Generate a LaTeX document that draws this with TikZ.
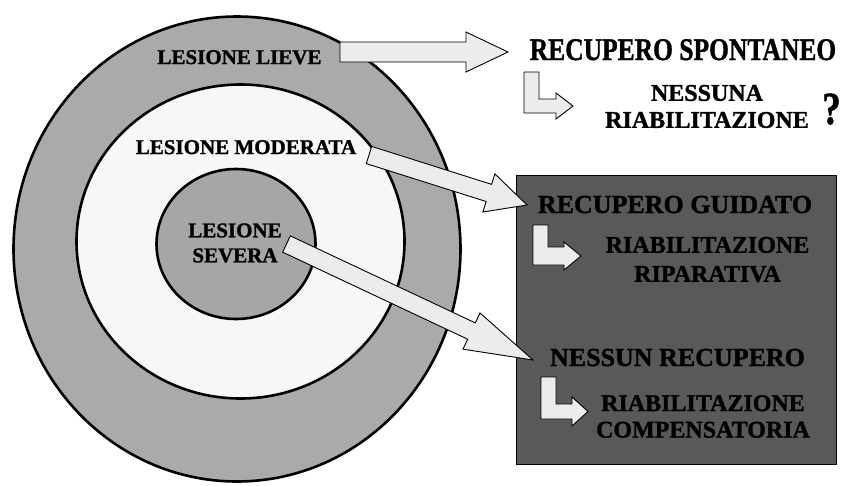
\documentclass[tikz,border=0pt]{standalone}
\usepackage{fontspec}
\setmainfont{Liberation Serif}[BoldFeatures={FakeBold=1.3}]
\usepackage{graphicx}
\usetikzlibrary{shapes.geometric,calc}
\definecolor{ringgray}{HTML}{AAAAAA}
\definecolor{midwhite}{HTML}{F7F7F7}
\definecolor{coregray}{HTML}{A6A6A6}
\definecolor{boxgray}{HTML}{595959}
\definecolor{arrowgray}{HTML}{ECECEC}
\tikzset{
  ring/.style={ellipse, draw=black, line width=2.6pt, inner sep=0pt},
  blockarr/.style={fill=arrowgray, draw=black, line width=0.9pt, line join=miter},
  lbl/.style={inner sep=0pt, align=center, font=\bfseries\fontsize{21}{25}\selectfont},
  bigt/.style={inner sep=0pt, align=center, font=\bfseries\fontsize{26}{30}\selectfont},
  subt/.style={inner sep=0pt, align=center, font=\bfseries\fontsize{24}{27}\selectfont},
}
% #1 tail, #2 tip, #3 body half width, #4 head half width, #5 head length
\newcommand\BlkArrow[5]{%
  \coordinate (ba-p) at ($(#2)!#5!(#1)$);
  \draw[blockarr] ($(#1)!#3!90:(#2)$) -- ($(ba-p)!#3!90:(#2)$) -- ($(ba-p)!#4!90:(#2)$)
    -- (#2) -- ($(ba-p)!#4!-90:(#2)$) -- ($(ba-p)!#3!-90:(#2)$) -- ($(#1)!#3!-90:(#2)$) -- cycle;
}
\begin{document}
\begin{tikzpicture}[x=1pt,y=-1pt]
\useasboundingbox (0,0) rectangle (846,485);
% concentric regions
\node[ring, fill=ringgray, minimum width=447pt, minimum height=465pt] (outer) at (237,249) {};
\node[ring, fill=midwhite, minimum width=328pt, minimum height=314pt] (middle) at (240.5,241.5) {};
\node[ring, fill=coregray, minimum width=159pt, minimum height=150pt] (inner) at (236,244) {};
% dark box
\node[draw=black, line width=1pt, fill=boxgray, minimum width=320pt, minimum height=289pt, inner sep=0pt] (box) at (676,319.5) {};
% labels in circles
\node[lbl, anchor=base] (lieve) at (239.5,64) {LESIONE LIEVE};
\node[lbl, anchor=base] (moderata) at (246,154) {LESIONE MODERATA};
\node[lbl] (severa) at (235,243) {LESIONE\\SEVERA};
% right texts
\node[inner sep=0pt, anchor=base, font=\bfseries\fontsize{31.5}{36}\selectfont] (spont) at (683,60) {\scalebox{0.81}[1]{RECUPERO SPONTANEO}};
\node[subt] (nessuna) at (707,106.5) {NESSUNA\\RIABILITAZIONE};
\node[inner sep=0pt, anchor=base, font=\bfseries\fontsize{46}{50}\selectfont] (qm) at (831.5,124) {\scalebox{0.8}[1]{?}};
\node[bigt, anchor=base] (guidato) at (675,213) {RECUPERO GUIDATO};
\node[subt, font=\bfseries\fontsize{24}{29}\selectfont] (ripar) at (707.5,259.5) {RIABILITAZIONE\\RIPARATIVA};
\node[bigt, anchor=base] (nessun) at (677.5,366) {NESSUN RECUPERO};
\node[subt, font=\bfseries\fontsize{24}{26.5}\selectfont] (compens) at (703,416.5) {RIABILITAZIONE\\COMPENSATORIA};
% block arrows
\coordinate (a1s) at (340,52);   \coordinate (a1e) at (508,52);
\coordinate (a2s) at (369,155);  \coordinate (a2e) at (527,205);
\coordinate (a3s) at (286.5,244);\coordinate (a3e) at (533,360);
\BlkArrow{a1s}{a1e}{10pt}{20pt}{42pt}
\BlkArrow{a2s}{a2e}{9pt}{20pt}{40pt}
\BlkArrow{a3s}{a3e}{9pt}{20pt}{68pt}
% L-shaped arrows
\draw[blockarr] (524,72) -- (539,72) -- (539,99) -- (556,99) -- (556,93) -- (573,106)
  -- (556,119) -- (556,113) -- (524,113) -- cycle;
\draw[blockarr] (533,225) -- (548,225) -- (548,247) -- (564,247) -- (564,242) -- (581,256)
  -- (564,270) -- (564,265) -- (533,265) -- cycle;
\draw[blockarr] (541,377) -- (556,377) -- (556,404) -- (572,404) -- (572,397) -- (588,411.5)
  -- (572,426) -- (572,419) -- (541,419) -- cycle;
\end{tikzpicture}
\end{document}
